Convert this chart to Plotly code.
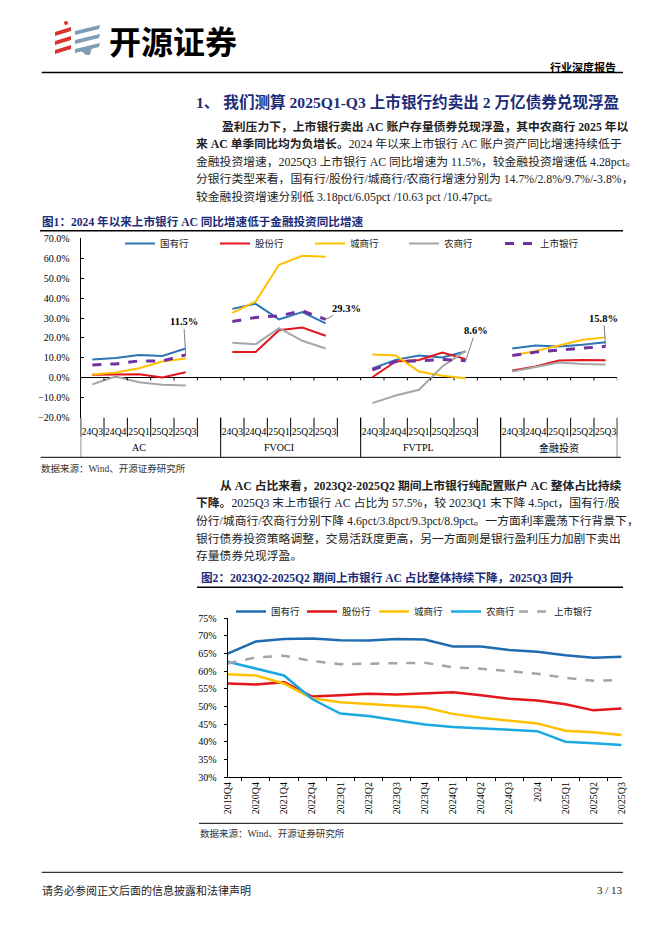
import plotly.graph_objects as go

W, H = 662, 936


def px(x):
    return x / W


def py(y):
    return 1 - y / H


SERIF = "Liberation Serif, Noto Sans CJK SC"
NAVY = "#1D2C78"

# ---------------- 图1 数据 ----------------
groups1 = ["AC", "FVOCI", "FVTPL", "金融投资"]
quarters1 = ["24Q3", "24Q4", "25Q1", "25Q2", "25Q3"]
# 每组5个季度，顺序 AC / FVOCI / FVTPL / 金融投资
guoyou1 = [9.2, 10.0, 11.5, 11.0, 14.7, 34.6, 37.1, 29.3, 33.0, 27.3,
           4.7, 9.0, 11.2, 10.2, 13.2, 14.7, 16.2, 15.7, 16.6, 17.9]
gufen1 = [1.5, 1.7, 1.8, 0.2, 2.8, 13.0, 13.0, 23.9, 25.2, 21.1,
          0.3, 8.2, 9.0, 12.7, 9.4, 3.7, 5.7, 8.7, 9.0, 8.85]
chengshang1 = [1.7, 2.7, 4.8, 8.2, 9.7, 32.6, 38.3, 56.7, 61.2, 60.7,
               11.7, 11.2, 3.2, 1.0, -0.2, 11.2, 13.5, 16.2, 19.1, 20.3]
nongshang1 = [-3.2, 0.7, -2.2, -3.5, -3.8, 17.6, 16.9, 24.9, 18.6, 14.7,
              -12.7, -8.9, -6.0, 5.7, 13.5, 3.2, 5.4, 7.7, 6.9, 6.7]
shangshi1 = [6.5, 7.0, 8.5, 8.5, 11.5, 28.3, 30.3, 31.1, 33.6, 29.3,
             4.0, 8.2, 8.5, 9.2, 8.6, 11.2, 12.9, 13.9, 14.9, 15.8]

# ---------------- 图2 数据 ----------------
cats2 = ["2019Q4", "2020Q4", "2021Q4", "2022Q4", "2023Q1", "2023Q2", "2023Q3",
         "2023Q4", "2024Q1", "2024Q2", "2024Q3", "2024", "2025Q1", "2025Q2", "2025Q3"]
guoyou2 = [65.0, 68.4, 69.1, 69.3, 68.8, 68.7, 69.1, 69.0, 67.0, 67.0, 66.0, 65.5, 64.5, 63.8, 64.1]
gufen2 = [56.5, 56.2, 56.9, 52.8, 53.2, 53.6, 53.4, 53.8, 54.0, 53.2, 52.2, 51.7, 50.6, 48.9, 49.4]
chengshang2 = [59.1, 58.8, 56.5, 52.3, 51.2, 50.6, 50.2, 49.7, 47.9, 46.8, 46.1, 45.2, 43.1, 42.7, 41.9]
nongshang2 = [62.7, 60.8, 58.8, 52.1, 48.0, 47.3, 46.0, 44.9, 44.2, 43.7, 43.4, 43.0, 40.0, 39.6, 39.1]
shangshi2 = [62.2, 63.9, 64.4, 62.9, 62.0, 62.2, 62.4, 62.4, 61.1, 60.7, 60.0, 59.3, 58.1, 57.3, 57.5]

n_q = len(quarters1)
step = n_q + 1  # 组间空一格


def spread(vals):
    xs, ys = [], []
    for g in range(len(groups1)):
        for k in range(n_q):
            xs.append(g * step + k)
            ys.append(vals[g * n_q + k])
        xs.append(None)
        ys.append(None)
    return xs, ys


fig = go.Figure()
legends = {}
legfont = dict(family=SERIF, size=9.5, color="#222222")

series1 = [
    ("国有行", guoyou1, "#2E75B6", "solid", 2),
    ("股份行", gufen1, "#E3161D", "solid", 2),
    ("城商行", chengshang1, "#FFC000", "solid", 2),
    ("农商行", nongshang1, "#A6A6A6", "solid", 2),
    ("上市银行", shangshi1, "#7030A0", "dash", 3),
]
leg1_x = [125, 220, 315, 409, 505]
for i, (name, vals, col, dash, w) in enumerate(series1):
    xs, ys = spread(vals)
    lid = "legend" if i == 0 else f"legend{i + 1}"
    fig.add_trace(go.Scatter(x=xs, y=ys, name=name, mode="lines", connectgaps=False,
                             line=dict(color=col, dash=dash, width=w),
                             xaxis="x", yaxis="y", legend=lid))
    legends[lid] = dict(x=px(leg1_x[i] - 5), y=py(229), xanchor="left", yanchor="top",
                        bgcolor="rgba(0,0,0,0)", font=legfont)

series2 = [
    ("国有行", guoyou2, "#1F6CB0", "solid"),
    ("股份行", gufen2, "#E3161D", "solid"),
    ("城商行", chengshang2, "#FFC000", "solid"),
    ("农商行", nongshang2, "#1AA9E3", "solid"),
    ("上市银行", shangshi2, "#A5A5A5", "dash"),
]
leg2_x = [236, 307, 379, 451, 519]
for i, (name, vals, col, dash) in enumerate(series2):
    lid = f"legend{i + 6}"
    fig.add_trace(go.Scatter(x=cats2, y=vals, name=name, mode="lines",
                             line=dict(color=col, dash=dash, width=2.5),
                             xaxis="x2", yaxis="y2", legend=lid))
    legends[lid] = dict(x=px(leg2_x[i] - 5), y=py(597), xanchor="left", yanchor="top",
                        bgcolor="rgba(0,0,0,0)", font=legfont)

centers = [g * step + k for g in range(len(groups1)) for k in range(n_q)]
ticktext1 = [q for g in groups1 for q in quarters1]
n_slots = len(groups1) * step - 1
bounds = [b - 0.5 for b in range(n_slots + 1)]

shapes = []
# 图1 下方分隔线
top1, bot1 = 238.3, 417.7
for b in bounds:
    shapes.append(dict(type="line", xref="x", yref="paper", x0=b, x1=b,
                       y0=py(bot1), y1=py(436.7), line=dict(color="black", width=1)))
    shapes.append(dict(type="line", xref="x", yref="y", x0=b, x1=b,
                       y0=0, y1=-1.3, line=dict(color="black", width=1)))
for b in [g * step - 0.5 for g in range(len(groups1))] + [bounds[-1]]:
    shapes.append(dict(type="line", xref="x", yref="paper", x0=b, x1=b,
                       y0=py(bot1), y1=py(457.3), line=dict(color="black", width=1)))

# 横线
for x0, x1, y, w in [(41.7, 623, 72.5, 1.5), (40, 623, 230.7, 1.5), (40.7, 621, 457.3, 1),
                     (197, 623, 587.3, 1.5), (199, 623, 823.3, 1), (41.7, 623, 872.3, 1)]:
    shapes.append(dict(type="line", xref="paper", yref="paper", x0=px(x0), x1=px(x1),
                       y0=py(y), y1=py(y), line=dict(color="black", width=w)))


# logo 图标
def path(pts):
    return "M " + " L ".join(f"{px(a):.5f},{py(b):.5f}" for a, b in pts) + " Z"


for i in range(3):
    y0 = 27 + 9 * i
    shapes.append(dict(type="path", xref="paper", yref="paper",
                       path=path([(55, y0 + 5), (71, y0), (71, y0 + 4), (55, y0 + 9)]),
                       fillcolor="#D9342B", line=dict(width=0)))
    shapes.append(dict(type="path", xref="paper", yref="paper",
                       path=path([(75, y0 + 4), (100, y0 - 2), (99, y0 + 2), (75, y0 + 8)]),
                       fillcolor="#7F9DB5", line=dict(width=0)))
shapes.append(dict(type="path", xref="paper", yref="paper",
                   path=path([(80, 50), (92, 47), (90, 55), (86, 55)]),
                   fillcolor="#7F9DB5", line=dict(width=0)))
shapes.append(dict(type="circle", xref="paper", yref="paper",
                   x0=px(64), x1=px(68), y0=py(25), y1=py(21),
                   fillcolor="#D9342B", line=dict(width=0)))

annotations = []


def txt(x, y, s, size=11.8, color="black", anchor="left", family=SERIF):
    annotations.append(dict(x=px(x), y=py(y), xref="paper", yref="paper", text=s,
                            showarrow=False, xanchor=anchor, yanchor="middle",
                            borderpad=0, borderwidth=0,
                            font=dict(family=family, size=size, color=color)))


txt(109, 40, "<b>开源证券</b>", size=32, family="Noto Sans CJK SC")
txt(616, 67.7, "<b>行业深度报告</b>", size=11, anchor="right")
txt(196, 101.7, "<b>1、 我们测算 2025Q1-Q3 上市银行约卖出 2 万亿债券兑现浮盈</b>", size=15.6, color=NAVY)

p1 = [
    (221.7, "<b>盈利压力下，上市银行卖出 AC 账户存量债券兑现浮盈，其中农商行 2025 年以</b>"),
    (196, "<b>来 AC 单季同比均为负增长。</b>2024 年以来上市银行 AC 账户资产同比增速持续低于"),
    (196, "金融投资增速，2025Q3 上市银行 AC 同比增速为 11.5%，较金融投资增速低 4.28pct。"),
    (196, "分银行类型来看，国有行/股份行/城商行/农商行增速分别为 14.7%/2.8%/9.7%/-3.8%，"),
    (196, "较金融投资增速分别低 3.18pct/6.05pct /10.63 pct /10.47pct。"),
]
for i, (x, s) in enumerate(p1):
    txt(x, 126.7 + 17.5 * i, s, color="#222222")

txt(42, 221.7, "<b>图1：2024 年以来上市银行 AC 同比增速低于金融投资同比增速</b>", size=11.6, color=NAVY)
txt(40.7, 468.3, "数据来源：Wind、开源证券研究所", size=9.5, color="#333333")

p2 = [
    (220, "<b>从 AC 占比来看，2023Q2-2025Q2 期间上市银行纯配置账户 AC 整体占比持续</b>"),
    (196, "<b>下降。</b>2025Q3 末上市银行 AC 占比为 57.5%，较 2023Q1 末下降 4.5pct，国有行/股"),
    (196, "份行/城商行/农商行分别下降 4.6pct/3.8pct/9.3pct/8.9pct。一方面利率震荡下行背景下，"),
    (196, "银行债券投资策略调整，交易活跃度更高，另一方面则是银行盈利压力加剧下卖出"),
    (196, "存量债券兑现浮盈。"),
]
for i, (x, s) in enumerate(p2):
    txt(x, 485.7 + 17.6 * i, s, color="#222222")

txt(200.7, 578.3, "<b>图2：2023Q2-2025Q2 期间上市银行 AC 占比整体持续下降，2025Q3 回升</b>", size=11.6, color=NAVY)
txt(200, 833.3, "数据来源：Wind、开源证券研究所", size=9.5, color="#333333")
txt(41.7, 890, "请务必参阅正文后面的信息披露和法律声明", size=11, color="#222222")
txt(622.5, 890, "3 / 13", size=11, anchor="right", color="#222222")

# 图1 分组标签
for g, name in enumerate(groups1):
    annotations.append(dict(x=g * step + (n_q - 1) / 2, y=py(447.5), xref="x", yref="paper",
                            text=name, showarrow=False, yanchor="middle",
                            font=dict(family=SERIF, size=10, color="black")))

# 上市银行数值标注
label_pts = [(n_q - 1, shangshi1[n_q - 1], -2, -33),
             (step + n_q - 1, shangshi1[2 * n_q - 1], 21, -11),
             (2 * step + n_q - 1, shangshi1[3 * n_q - 1], 10, -30),
             (3 * step + n_q - 1, shangshi1[4 * n_q - 1], -2, -28)]
for x, v, ax, ay in label_pts:
    annotations.append(dict(x=x, y=v, xref="x", yref="y", text=f"<b>{v:.1f}%</b>",
                            showarrow=True, arrowhead=0, arrowwidth=1, arrowcolor="#808080",
                            ax=ax, ay=ay, standoff=0,
                            font=dict(family=SERIF, size=10.5, color="black")))

axfont = dict(family=SERIF, size=10, color="black")

fig.update_layout(
    width=W, height=H,
    margin=dict(l=0, r=0, t=0, b=0),
    paper_bgcolor="white", plot_bgcolor="white",
    template="none",
    showlegend=True,
    shapes=shapes,
    annotations=annotations,
    xaxis=dict(domain=[px(80.7), px(617.3)], range=[-0.5, n_slots - 0.5], anchor="y",
               tickvals=centers, ticktext=ticktext1, ticks="", showline=False,
               tickangle=0, showgrid=False, zeroline=False,
               tickfont=dict(family=SERIF, size=9.6, color="black"),
               ticklabelstandoff=7),
    yaxis=dict(domain=[py(bot1), py(top1)], range=[-20, 70], dtick=10, anchor="x",
               tickformat=".1f", ticksuffix="%", showline=True, linecolor="black",
               linewidth=1, ticks="inside", ticklen=3, tickcolor="black",
               zeroline=True, zerolinecolor="black", zerolinewidth=1,
               showgrid=False, tickfont=axfont, ticklabelstandoff=8),
    xaxis2=dict(domain=[px(227.7), px(621.7)], anchor="y2", type="category",
                tickson="boundaries", ticks="outside", ticklen=3, tickcolor="black",
                tickangle=-90, showline=True, linecolor="black", linewidth=1,
                showgrid=False, zeroline=False, tickfont=axfont),
    yaxis2=dict(domain=[py(777), py(618.3)], anchor="x2", range=[30, 75], dtick=5,
                ticksuffix="%", showline=True, linecolor="black", linewidth=1,
                ticks="outside", ticklen=3, tickcolor="black",
                showgrid=False, zeroline=False, tickfont=axfont, ticklabelstandoff=5),
    **legends,
)

fig.write_html("out.html", config={"displayModeBar": False},
               post_script="document.body.style.margin='0px';")
